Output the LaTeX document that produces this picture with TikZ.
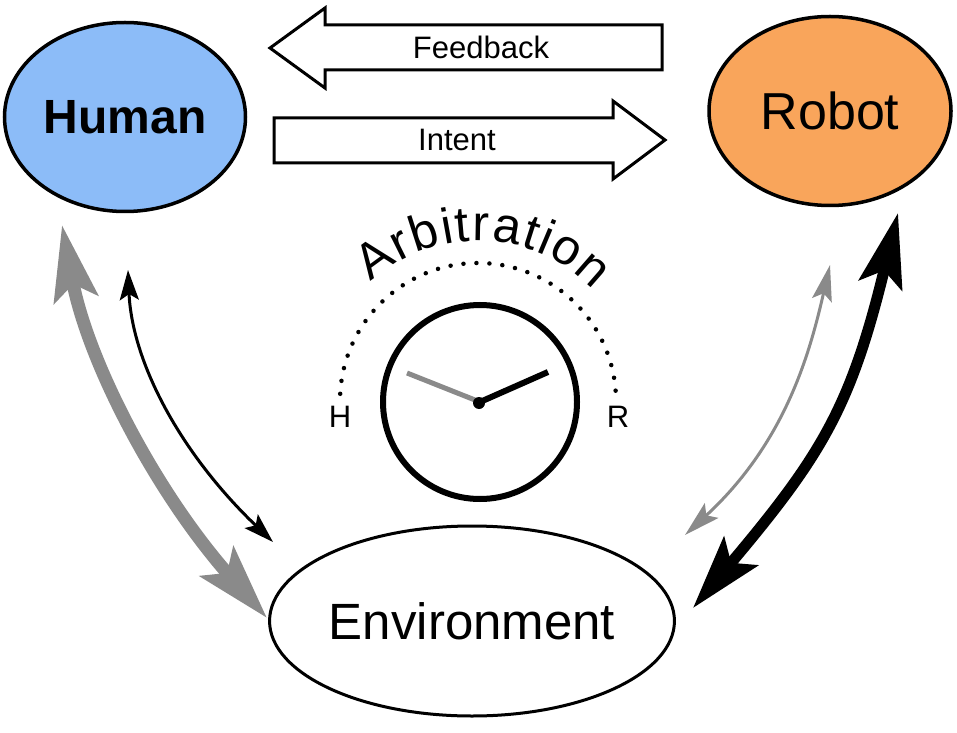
\documentclass[tikz,border=0pt]{standalone}
\usepackage{fontspec}
\setmainfont{Liberation Sans}
\usetikzlibrary{shapes.geometric,arrows.meta,decorations.text}
\definecolor{humanblue}{RGB}{140,188,248}
\definecolor{robotorange}{RGB}{249,165,91}
\definecolor{arrgray}{RGB}{138,138,138}
\tikzset{
  agent/.style={ellipse, draw=black, line width=3.5pt, inner sep=0pt},
  blockarrow/.style={draw=black, line width=3pt, fill=white, line join=miter},
  lbl/.style={inner sep=0pt, font=\fontsize{31}{31}\selectfont},
  thickgray/.style={draw=arrgray, line width=13pt,
     {Stealth[length=75pt,width=44pt,inset=15pt]}-{Stealth[length=75pt,width=44pt,inset=15pt]}},
  thickblack/.style={draw=black, line width=11pt,
     {Stealth[length=74pt,width=44pt,inset=15pt]}-{Stealth[length=74pt,width=44pt,inset=15pt]}},
  thinblack/.style={draw=black, line width=3pt,
     {Stealth[length=30pt,width=19pt,inset=6pt]}-{Stealth[length=30pt,width=19pt,inset=6pt]}},
  thingray/.style={draw=arrgray, line width=3pt,
     {Stealth[length=36pt,width=20pt,inset=7pt]}-{Stealth[length=36pt,width=20pt,inset=7pt]}},
}
\begin{document}
\begin{tikzpicture}[x=1pt,y=1pt]
\useasboundingbox (0,0) rectangle (957,732);

% agents
\node[agent, fill=humanblue, minimum width=241pt, minimum height=189pt] (human) at (125,615)
  {\fontsize{48}{48}\selectfont\bfseries Human};
\node[agent, fill=robotorange, minimum width=242pt, minimum height=189pt] (robot) at (830,621)
  {\fontsize{52}{52}\selectfont Robot};
\node[agent, line width=3pt, fill=white, minimum width=362pt, minimum height=190pt] (env) at (472,111)
  {\fontsize{51}{51}\selectfont Environment};

% block arrows
\draw[blockarrow] (270,684) -- (325,724) -- (325,707) -- (662,707) -- (662,662)
  -- (325,662) -- (325,644) -- cycle;
\node[lbl] (feedback) at (481,685) {Feedback};
\draw[blockarrow] (274,614) -- (613,614) -- (613,631) -- (665,592) -- (613,553)
  -- (613,569) -- (274,569) -- cycle;
\node[lbl] (intent) at (457,592) {Intent};

% arbitration dial
\draw[line width=4.5pt, line cap=round, dash pattern=on 0pt off 13pt]
  (478,331) ++(177:138pt) arc[start angle=177, end angle=3, radius=138pt];
\path[decorate, decoration={text along path, text align={fit to path},
  text={|\fontsize{50}{50}\selectfont|Arbitration}}]
  (478,331) ++(132:160pt) arc[start angle=132, end angle=44, radius=160pt];
\node[lbl] (hlab) at (340,315) {H};
\node[lbl] (rlab) at (618,315) {R};
\node[circle, draw=black, line width=6pt, minimum size=194pt, inner sep=0pt] (clock) at (480,330) {};
\coordinate (hhand) at (407,359);
\coordinate (rhand) at (548,360);
\draw[arrgray, line width=5pt] (clock.center) -- (hhand);
\draw[black, line width=6pt] (clock.center) -- (rhand);
\fill (479,329) circle (6pt);

% interaction arrows
\coordinate (hg1) at (62,507);   \coordinate (hg2) at (267,114);
\coordinate (hb1) at (128,462);  \coordinate (hb2) at (273,190);
\coordinate (rg1) at (830,467);  \coordinate (rg2) at (685,197);
\coordinate (rb1) at (898,519);  \coordinate (rb2) at (693,124);
\draw[thickgray] (hg1) .. controls (88,369) and (157,238) .. (hg2);
\draw[thinblack] (hb1) .. controls (132,370) and (180,279) .. (hb2);
\draw[thingray] (rg1) .. controls (810,380) and (786,290) .. (rg2);
\draw[thickblack] (rb1) .. controls (851,325) and (822,277) .. (rb2);
\end{tikzpicture}
\end{document}
